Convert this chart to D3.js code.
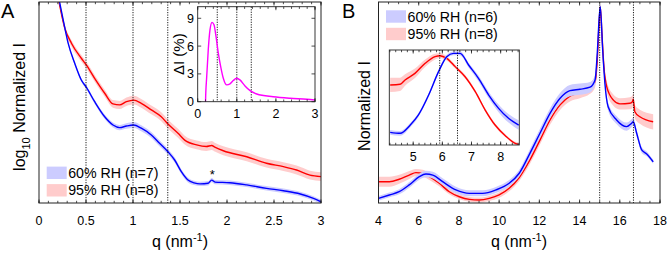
<!DOCTYPE html>
<html><head><meta charset="utf-8">
<script src="https://cdn.jsdelivr.net/npm/d3@7"></script>
<style>body{margin:0;background:#fff} text{font-family:"Liberation Sans",Arial,sans-serif;fill:#000}</style>
</head><body><svg id="c" width="669" height="255"></svg>
<script>
// ---------- Panel A data (log10 normalized I, arbitrary units) ----------
const qA95 = [0.205,0.275,0.345,0.45,0.503,0.592,0.699,0.787,0.858,0.93,1.007,1.088,1.195,1.301,1.372,1.479,1.55,1.677,1.78,1.837,1.87,1.961,2.21,2.42,2.6,2.74,2.883,3.0];
const iA95 = [10.2,8.69,7.95,7.20,6.87,6.20,5.46,4.93,4.88,5.04,5.12,4.96,4.63,4.29,3.93,3.47,3.13,2.89,2.81,2.86,2.78,2.60,2.30,1.98,1.81,1.64,1.39,1.31];
const eA95 = [0.12,0.14,0.16,0.16,0.17,0.17,0.18,0.19,0.2,0.21,0.22,0.22,0.22,0.22,0.22,0.22,0.22,0.22,0.22,0.22,0.22,0.22,0.22,0.22,0.22,0.22,0.22,0.22];
const qA60 = [0.21,0.26,0.31,0.38,0.45,0.503,0.592,0.699,0.787,0.858,0.93,1.007,1.088,1.195,1.266,1.372,1.443,1.514,1.585,1.65,1.713,1.8,1.837,1.872,2.03,2.21,2.42,2.6,2.78,2.92,3.0];
const iA60 = [10.2,9.05,7.95,6.95,6.12,5.76,5.04,4.29,3.88,3.75,3.83,3.88,3.72,3.38,3.05,2.55,2.14,1.56,1.14,1.00,0.95,0.98,1.14,1.04,1.01,0.90,0.73,0.61,0.45,0.23,0.06];
const eA60 = [0.08,0.08,0.08,0.09,0.09,0.1,0.1,0.11,0.12,0.13,0.14,0.15,0.15,0.15,0.15,0.14,0.13,0.12,0.12,0.11,0.11,0.11,0.11,0.11,0.11,0.11,0.11,0.11,0.11,0.11,0.11];
const ticksA = [0,0.5,1,1.5,2,2.5,3];
const tickLabelsA = ["0","0.5","1","1.5","2","2.5","3"];
const markersA = [0.5,1.0,1.37];
const legendA = ["60% RH (n=7)","95% RH (n=8)"];

// Inset A: difference in %
const qDI = [0.2,0.2,0.23,0.27,0.315,0.366,0.417,0.468,0.527,0.588,0.655,0.742,0.826,0.91,0.997,1.08,1.21,1.34,1.51,1.93,2.36,2.79,3.0];
const dI  = [-0.5,0,2.7,5.6,7.77,8.56,8.31,7.04,5.24,3.79,2.53,1.81,1.92,2.28,2.53,2.35,1.70,1.19,0.83,0.54,0.37,0.26,0.18];
const ticksDIx = [0,1,2,3];
const ticksDIy = [0,3,6,9];

// ---------- Panel B data (normalized I, arbitrary units) ----------
const qB95 = [4.0,4.54,5.03,5.53,5.86,6.2,6.53,7.02,7.52,8.02,8.52,9.01,9.51,10.0,10.5,11.0,11.53,12.03,12.53,13.03,13.52,14.02,14.52,14.77,14.88,14.98,15.03,15.11,15.21,15.35,15.68,16.01,16.5,16.62,16.67,16.75,17.0,17.66];
const iB95 = [1.06,1.06,1.18,1.39,1.51,1.48,1.31,0.98,0.56,0.31,0.18,0.15,0.23,0.40,0.73,1.27,2.14,3.13,4.13,4.88,5.32,5.49,5.71,6.03,7.11,9.10,9.77,8.44,6.78,5.79,5.12,4.93,4.96,5.02,5.17,4.54,4.29,4.04];
const eB95 = [0.25,0.25,0.22,0.2,0.18,0.17,0.16,0.15,0.13,0.12,0.12,0.12,0.13,0.14,0.15,0.17,0.2,0.22,0.24,0.25,0.27,0.28,0.28,0.28,0.25,0.2,0.15,0.2,0.25,0.28,0.28,0.28,0.3,0.3,0.3,0.33,0.35,0.38];
const qB60 = [4.0,4.54,5.03,5.53,6.03,6.36,6.7,7.19,7.85,8.52,9.18,9.84,10.5,11.0,11.53,12.03,12.53,13.03,13.52,14.02,14.52,14.77,14.88,14.98,15.03,15.15,15.26,15.42,15.84,16.34,16.59,16.67,16.84,17.09,17.34,17.66];
const iB60 = [0.23,0.40,0.56,0.90,1.31,1.44,1.39,1.06,0.65,0.48,0.48,0.65,0.98,1.48,2.47,3.47,4.46,5.21,5.59,5.66,5.76,6.12,7.45,9.27,9.77,7.61,5.96,4.79,4.13,3.80,3.97,4.04,3.47,2.64,2.44,2.05];
const eB60 = [0.12,0.12,0.13,0.14,0.15,0.16,0.17,0.17,0.16,0.15,0.15,0.15,0.16,0.18,0.2,0.22,0.24,0.26,0.28,0.28,0.26,0.24,0.2,0.15,0.12,0.15,0.18,0.2,0.2,0.2,0.2,0.2,0.18,0.15,0.12,0.1];
const ticksB = [4,6,8,10,12,14,16,18];
const markersB = [15.0,16.68];
const legendB = ["60% RH (n=6)","95% RH (n=8)"];

// Inset B: zoom of 4-8.6 region
const qIB95 = [4.21,4.55,4.72,5.06,5.41,5.75,5.92,6.15,6.44,6.78,7.13,7.47,7.81,8.16,8.5,8.62];
const iIB95 = [6.32,6.39,6.84,7.54,8.6,9.3,9.4,9.12,8.25,7.19,5.61,3.68,2.1,0.98,0.18,0.07];
const eIB95 = [0.75,0.7,0.6,0.5,0.4,0.3,0.25,0.22,0.2,0.2,0.18,0.18,0.18,0.15,0.15,0.15];
const qIB60 = [4.21,4.55,4.9,5.18,5.53,5.87,6.15,6.38,6.61,6.9,7.24,7.59,7.93,8.27,8.62];
const iIB60 = [1.33,1.23,2.1,3.16,5.26,7.72,9.3,9.65,9.65,8.42,7.02,5.26,3.86,2.81,2.1];
const eIB60 = [0.25,0.25,0.22,0.2,0.2,0.2,0.2,0.2,0.22,0.25,0.3,0.35,0.4,0.45,0.5];
const ticksIB = [5,6,7,8];
const markersIB = [5.91,6.52];

// ---------- drawing ----------
const svg = d3.select("#c");
const BLUE="#0000ff", RED="#ff0000", BLUEF="rgb(204,204,255)", REDF="rgb(255,204,204)";
const FONT_TICK=12.5, FONT_TITLE=16, FONT_LEG=14.2;
let clipId=0;

function zip(q,v,e){ return q.map((d,i)=>({q:d,v:v[i],e:e?e[i]:0})); }

function drawSeries(g,x,y,data,stroke,fill){
  const area=d3.area().x(d=>x(d.q)).y0(d=>y(d.v-d.e)).y1(d=>y(d.v+d.e)).curve(d3.curveMonotoneX);
  const line=d3.line().x(d=>x(d.q)).y(d=>y(d.v)).curve(d3.curveMonotoneX);
  if(fill) g.append("path").datum(data).attr("d",area).attr("fill",fill).attr("stroke","none");
  g.append("path").datum(data).attr("d",line).attr("fill","none").attr("stroke",stroke).attr("stroke-width",1.4);
}

function frame(g,x,y,opt){
  const [X0,X1]=x.range(), [Y1,Y0]=y.range();
  const t=g.append("g").attr("stroke","#222").attr("stroke-width",0.8);
  opt.minorX.forEach(v=>{const px=x(v);
    t.append("line").attr("x1",px).attr("x2",px).attr("y1",Y1).attr("y2",Y1-2.2);
    t.append("line").attr("x1",px).attr("x2",px).attr("y1",Y0).attr("y2",Y0+2.2);});
  opt.majorX.forEach(v=>{const px=x(v);
    t.append("line").attr("x1",px).attr("x2",px).attr("y1",Y1).attr("y2",Y1-3.5);
    t.append("line").attr("x1",px).attr("x2",px).attr("y1",Y0).attr("y2",Y0+3.5);});
  (opt.majorY||[]).forEach(v=>{const py=y(v);
    t.append("line").attr("x1",X0).attr("x2",X0+3.5).attr("y1",py).attr("y2",py);
    t.append("line").attr("x1",X1).attr("x2",X1-3.5).attr("y1",py).attr("y2",py);});
  g.append("rect").attr("x",X0).attr("y",Y0).attr("width",X1-X0).attr("height",Y1-Y0)
    .attr("fill","none").attr("stroke","#222").attr("stroke-width",opt.bw||1);
}

function markers(g,x,y,vals){
  const [Y1,Y0]=y.range();
  vals.forEach(v=>g.append("line").attr("x1",x(v)).attr("x2",x(v)).attr("y1",Y0).attr("y2",Y1)
    .attr("stroke","#000").attr("stroke-width",0.9).attr("stroke-dasharray","1.2,1.3"));
}

function clip(g,x,y){
  const id="clip"+(clipId++);
  const [X0,X1]=x.range(), [Y1,Y0]=y.range();
  svg.append("clipPath").attr("id",id).append("rect").attr("x",X0).attr("y",Y0).attr("width",X1-X0).attr("height",Y1-Y0);
  return g.append("g").attr("clip-path","url(#"+id+")");
}

function xTitle(cx,by){
  const t=svg.append("text").attr("x",cx).attr("y",by).attr("text-anchor","middle").attr("font-size",FONT_TITLE);
  t.append("tspan").text("q (nm");
  t.append("tspan").attr("dy",-6).attr("font-size",11).text("-1");
  t.append("tspan").attr("dy",6).text(")");
}

function legend(x0,y0,labels,fills){
  labels.forEach((l,i)=>{
    svg.append("rect").attr("x",x0).attr("y",y0+i*17.5-6.2).attr("width",20).attr("height",12.4).attr("fill",fills[i]);
    svg.append("text").attr("x",x0+21.5).attr("y",y0+i*17.5+5).attr("font-size",FONT_LEG).text(l);
  });
}

// ===== Panel A =====
const xA=d3.scaleLinear().domain([0,3]).range([39,321]);
const yA=d3.scaleLinear().domain([0,10]).range([203,2]);
const gA=svg.append("g");
const cA=clip(gA,xA,yA);
drawSeries(cA,xA,yA,zip(qA95,iA95,eA95),RED,REDF);
drawSeries(cA,xA,yA,zip(qA60,iA60,eA60),BLUE,BLUEF);
markers(gA,xA,yA,markersA);
frame(gA,xA,yA,{majorX:ticksA,minorX:d3.range(0,3.001,0.1)});
ticksA.forEach((v,i)=>svg.append("text").attr("x",xA(v)).attr("y",225).attr("text-anchor","middle").attr("font-size",FONT_TICK).text(tickLabelsA[i]));
xTitle(180,247);
{
  const t=svg.append("text").attr("transform","translate(25,107) rotate(-90)").attr("text-anchor","middle").attr("font-size",FONT_TITLE);
  t.append("tspan").text("log");
  t.append("tspan").attr("dy",5).attr("font-size",11).text("10");
  t.append("tspan").attr("dy",-5).text(" Normalized I");
}
svg.append("text").attr("x",xA(1.843)).attr("y",179).attr("text-anchor","middle").attr("font-size",13).text("*");
legend(46.7,172.8,legendA,[BLUEF,REDF]);
svg.append("text").attr("x",1).attr("y",17.5).attr("font-size",20).text("A");

// Inset A
const xI=d3.scaleLinear().domain([0,3]).range([197.7,315]);
const yI=d3.scaleLinear().domain([0,10.25]).range([101.7,6.7]);
svg.append("rect").attr("x",197.7).attr("y",6.7).attr("width",117.3).attr("height",95).attr("fill","#fff");
const gI=svg.append("g");
markers(gI,xI,yI,markersA);
const cI=clip(gI,xI,yI);
drawSeries(cI,xI,yI,zip(qDI,dI),"#ff00ff",null);
frame(gI,xI,yI,{majorX:ticksDIx,minorX:d3.range(0,3.001,0.2),majorY:ticksDIy,bw:0.9});
ticksDIx.forEach(v=>svg.append("text").attr("x",xI(v)).attr("y",117.5).attr("text-anchor","middle").attr("font-size",FONT_TICK).text(v));
ticksDIy.forEach(v=>svg.append("text").attr("x",194).attr("y",yI(v)+4.5).attr("text-anchor","end").attr("font-size",FONT_TICK).text(v));
svg.append("text").attr("transform","translate(183.5,54.2) rotate(-90)").attr("text-anchor","middle").attr("font-size",FONT_TITLE-1).text("ΔI (%)");

// ===== Panel B =====
const xB=d3.scaleLinear().domain([4,18]).range([378.5,660]);
const yB=d3.scaleLinear().domain([0,10]).range([203,2]);
const gB=svg.append("g");
const cB=clip(gB,xB,yB);
drawSeries(cB,xB,yB,zip(qB95,iB95,eB95),RED,REDF);
drawSeries(cB,xB,yB,zip(qB60,iB60,eB60),BLUE,BLUEF);
markers(gB,xB,yB,markersB);
frame(gB,xB,yB,{majorX:ticksB,minorX:d3.range(4,18.001,0.5)});
ticksB.forEach(v=>svg.append("text").attr("x",xB(v)).attr("y",225).attr("text-anchor","middle").attr("font-size",FONT_TICK).text(v));
xTitle(519,247);
svg.append("text").attr("transform","translate(370,106) rotate(-90)").attr("text-anchor","middle").attr("font-size",FONT_TITLE).text("Normalized I");
legend(386,16.5,legendB,[BLUEF,REDF]);
svg.append("text").attr("x",342).attr("y",17.5).attr("font-size",20).text("B");

// Inset B
const xIB=d3.scaleLinear().domain([4.18,8.64]).range([389.3,519.3]);
const yIB=d3.scaleLinear().domain([0,10]).range([145,50]);
svg.append("rect").attr("x",389.3).attr("y",50).attr("width",130).attr("height",95).attr("fill","#fff");
const gIB=svg.append("g");
const cIB=clip(gIB,xIB,yIB);
drawSeries(cIB,xIB,yIB,zip(qIB95,iIB95,eIB95),RED,REDF);
drawSeries(cIB,xIB,yIB,zip(qIB60,iIB60,eIB60),BLUE,BLUEF);
markers(gIB,xIB,yIB,markersIB);
frame(gIB,xIB,yIB,{majorX:ticksIB,minorX:d3.range(4.2,8.64,0.2),bw:0.9});
ticksIB.forEach(v=>svg.append("text").attr("x",xIB(v)).attr("y",161).attr("text-anchor","middle").attr("font-size",FONT_TICK).text(v));
</script></body></html>
